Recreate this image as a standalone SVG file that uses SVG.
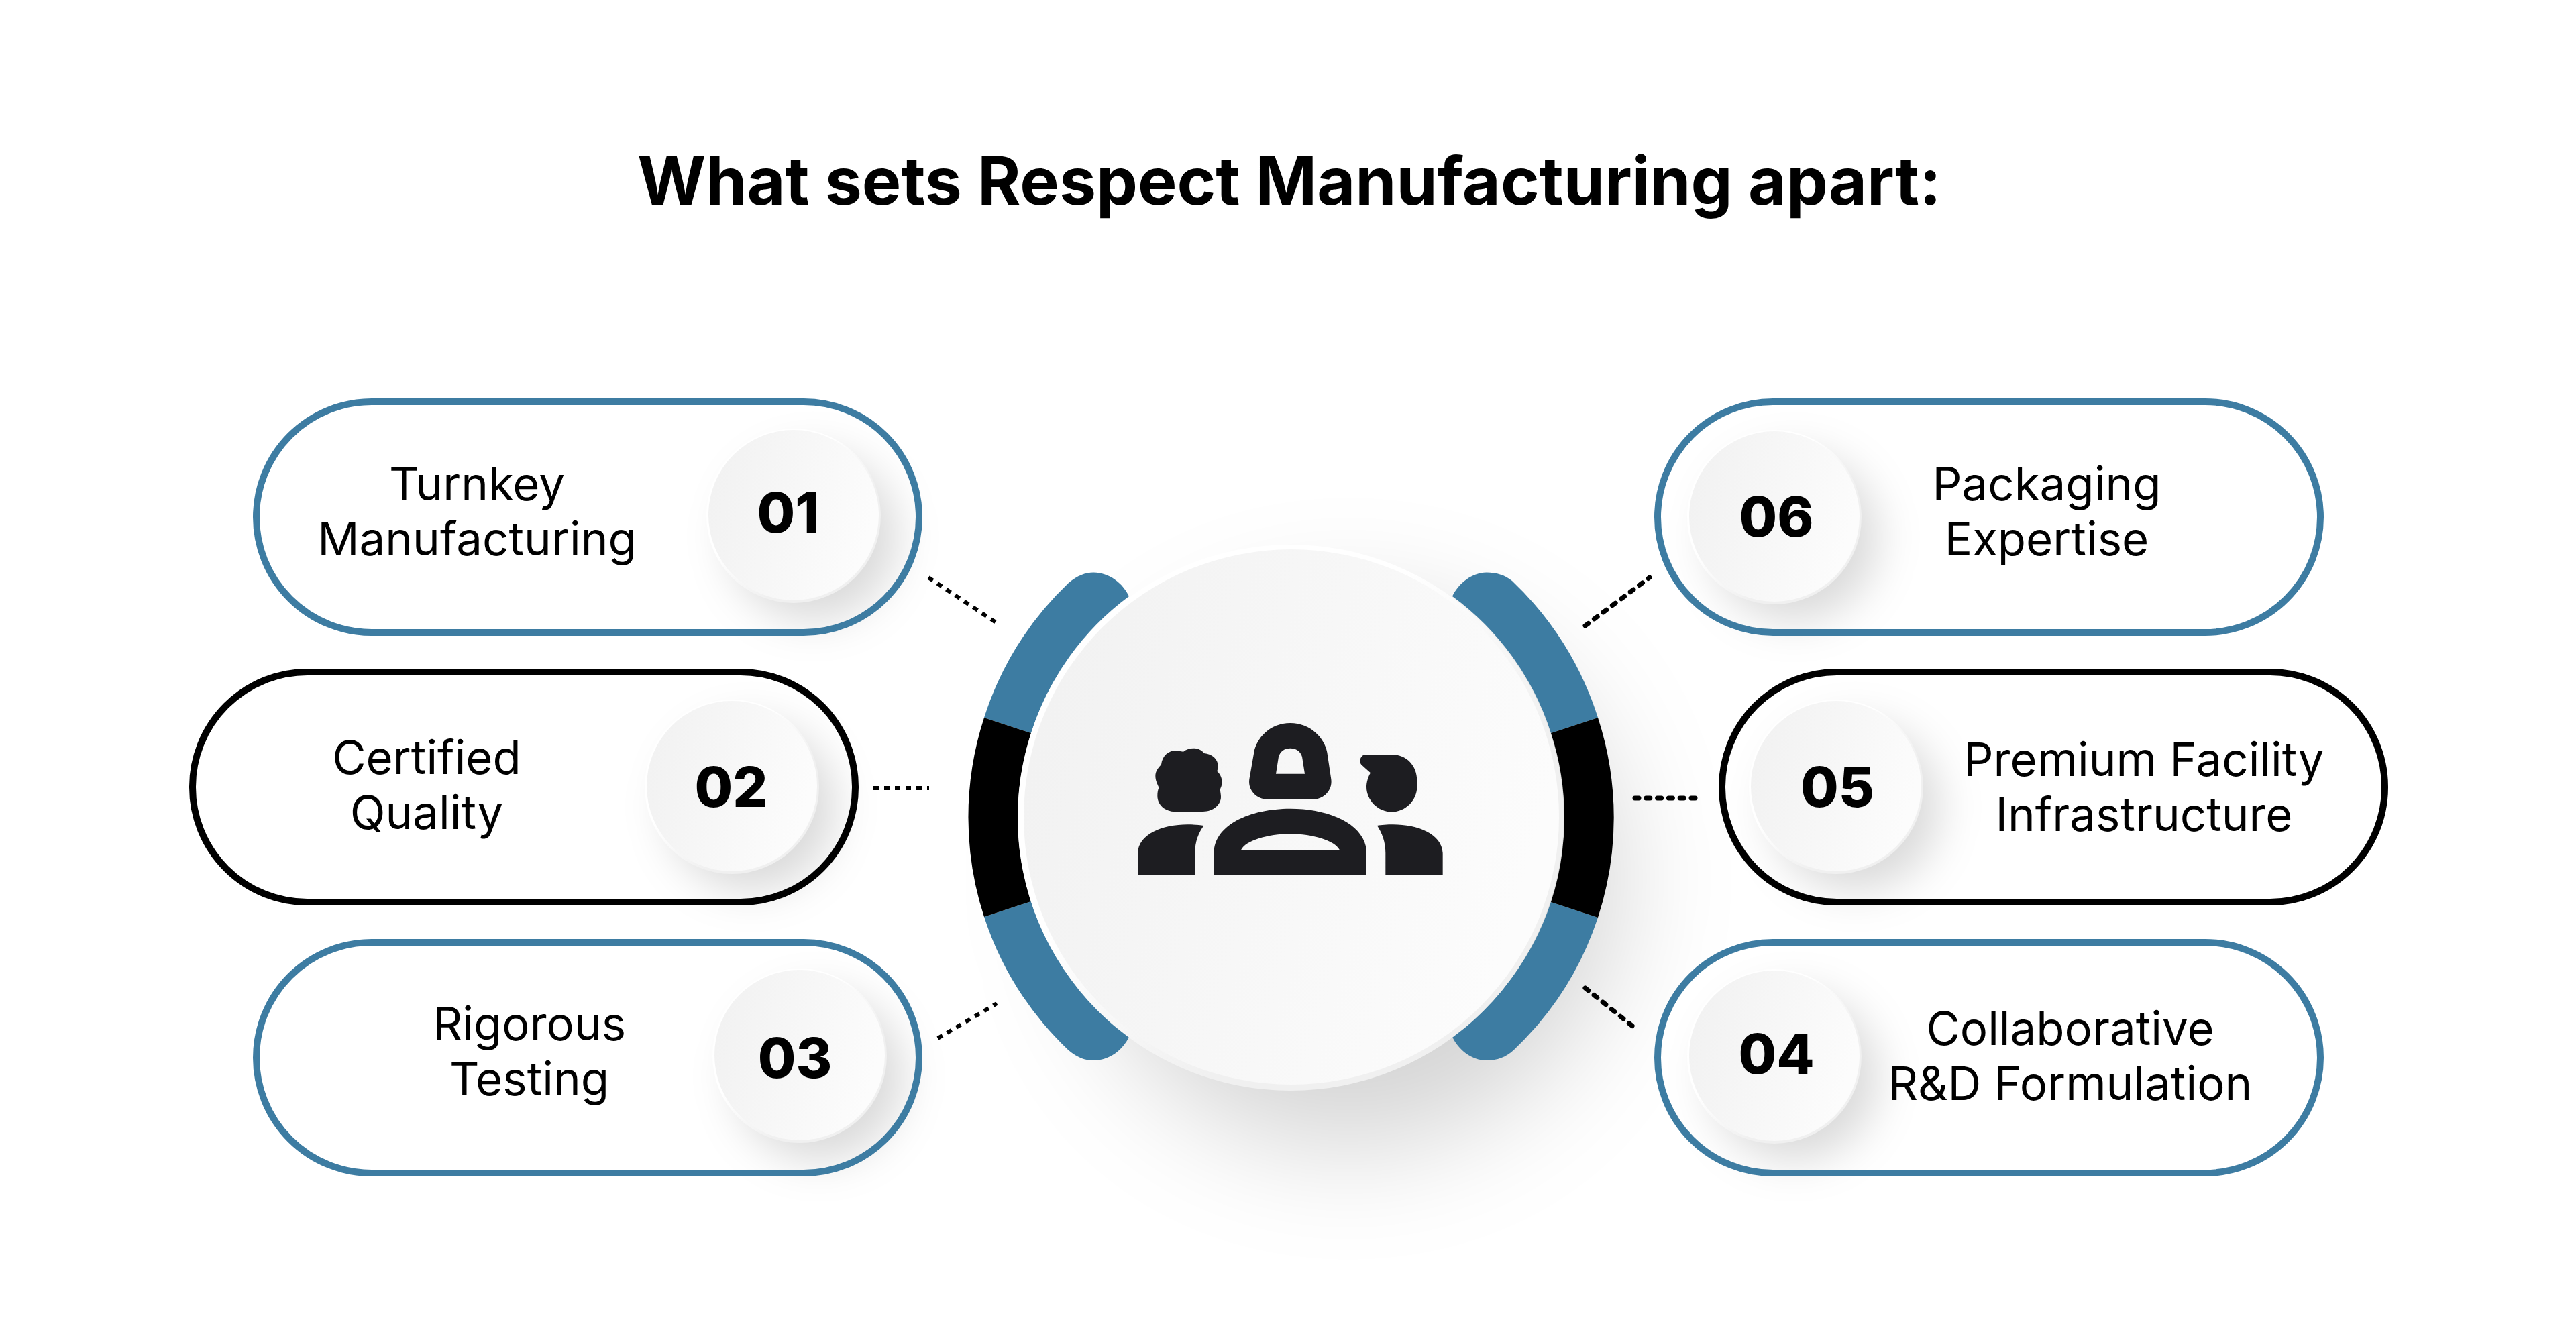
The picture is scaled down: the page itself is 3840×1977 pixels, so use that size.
<svg xmlns="http://www.w3.org/2000/svg" width="3840" height="1977" viewBox="0 0 3840 1977">
<style>
.t{font-family:"Inter","Liberation Sans",sans-serif;fill:#000;text-anchor:middle}
.title{font-size:98.3px;font-weight:700}
.lab{font-size:69px;font-weight:400}
.num{font-size:82px;font-weight:800}
.pb{fill:none;stroke:#3d7ca2;stroke-width:10}
.pk{fill:none;stroke:#000;stroke-width:10}
.pf{fill:#fff}
.badge{fill:url(#bg)}
.brim{fill:url(#rim)}
.sh{fill:#000;fill-opacity:.15;filter:url(#blur)}
.blue{fill:#3d7ca2}
.ic{fill:#1d1d21;fill-rule:evenodd}
.dl{fill:none;stroke:#000;stroke-width:6;stroke-dasharray:8 8}
.dr{fill:none;stroke:#000;stroke-width:7;stroke-linecap:round;stroke-dasharray:6 10.800}
</style>
<defs>
<linearGradient id="bg" x1="0" y1="0.1" x2="1" y2="0.4"><stop offset="0" stop-color="#f1f1f1"/><stop offset="1" stop-color="#fcfcfc"/></linearGradient>
<linearGradient id="rim" x1="0.1" y1="0.1" x2="0.9" y2="0.9"><stop offset="0.35" stop-color="#fff"/><stop offset="0.7" stop-color="#f0f0f0"/></linearGradient>
<filter id="blur" x="-50%" y="-50%" width="200%" height="200%"><feGaussianBlur stdDeviation="32"/></filter>
<filter id="blurL" x="-50%" y="-50%" width="200%" height="200%"><feGaussianBlur stdDeviation="85"/></filter>
</defs>
<rect width="3840" height="1977" fill="#fff"/>
<circle id="hub-shadow" cx="2010" cy="1310" r="400" fill="#000" fill-opacity=".17" filter="url(#blurL)"/>
<text id="title" class="t title" x="1922" y="305">What sets Respect Manufacturing apart:</text>

<g id="connectors">
<path class="dl" d="M1384 861L1486 929"/>
<path class="dl" d="M1302 1175H1385"/>
<path class="dl" d="M1398 1548L1486 1496"/>
<path class="dr" d="M2363 1473L2440 1535"/>
<path class="dr" d="M2437 1190H2535"/>
<path class="dr" d="M2363 933L2459 861"/>
</g>

<g id="node-01">
<rect class="pf" x="382" y="599" width="988" height="344" rx="172"/>
<circle class="sh" cx="1212" cy="800" r="125"/>
<rect class="pb" x="382" y="599" width="988" height="344" rx="172"/>
<circle class="brim" cx="1183" cy="769" r="130"/>
<circle class="badge" cx="1183" cy="768" r="127"/>
<text class="t lab" x="711" y="746">Turnkey</text><text class="t lab" x="711" y="828">Manufacturing</text>
<text class="t num" x="1175" y="794">01</text>
</g>
<g id="node-02">
<rect class="pf" x="287" y="1002" width="988" height="343" rx="171"/>
<circle class="sh" cx="1120" cy="1203" r="125"/>
<rect class="pk" x="287" y="1002" width="988" height="343" rx="171"/>
<circle class="brim" cx="1091" cy="1173" r="130"/>
<circle class="badge" cx="1091" cy="1172" r="127"/>
<text class="t lab" x="636" y="1154">Certified</text><text class="t lab" x="636" y="1236">Quality</text>
<text class="t num" x="1090" y="1203">02</text>
</g>
<g id="node-03">
<rect class="pf" x="382" y="1405" width="988" height="344" rx="172"/>
<circle class="sh" cx="1221" cy="1605" r="125"/>
<rect class="pb" x="382" y="1405" width="988" height="344" rx="172"/>
<circle class="brim" cx="1192" cy="1574" r="130"/>
<circle class="badge" cx="1192" cy="1573" r="127"/>
<text class="t lab" x="789" y="1551">Rigorous</text><text class="t lab" x="789" y="1633">Testing</text>
<text class="t num" x="1185" y="1607">03</text>
</g>
<g id="node-06">
<rect class="pf" x="2471" y="599" width="988" height="344" rx="172"/>
<circle class="sh" cx="2674" cy="801" r="125"/>
<rect class="pb" x="2471" y="599" width="988" height="344" rx="172"/>
<circle class="brim" cx="2645" cy="771" r="130"/>
<circle class="badge" cx="2645" cy="770" r="127"/>
<text class="t lab" x="3051" y="746">Packaging</text><text class="t lab" x="3051" y="828">Expertise</text>
<text class="t num" x="2648" y="800">06</text>
</g>
<g id="node-05">
<rect class="pf" x="2567" y="1002" width="988" height="343" rx="171"/>
<circle class="sh" cx="2766" cy="1203" r="125"/>
<rect class="pk" x="2567" y="1002" width="988" height="343" rx="171"/>
<circle class="brim" cx="2737" cy="1173" r="130"/>
<circle class="badge" cx="2737" cy="1172" r="127"/>
<text class="t lab" x="3196" y="1157">Premium Facility</text><text class="t lab" x="3196" y="1239">Infrastructure</text>
<text class="t num" x="2739" y="1203">05</text>
</g>
<g id="node-04">
<rect class="pf" x="2471" y="1405" width="988" height="344" rx="172"/>
<circle class="sh" cx="2674" cy="1605" r="125"/>
<rect class="pb" x="2471" y="1405" width="988" height="344" rx="172"/>
<circle class="brim" cx="2645" cy="1575" r="130"/>
<circle class="badge" cx="2645" cy="1574" r="127"/>
<text class="t lab" x="3086" y="1558">Collaborative</text><text class="t lab" x="3086" y="1640">R&amp;D Formulation</text>
<text class="t num" x="2648" y="1601">04</text>
</g>

<g id="hub">
<path class="blue" d="M1593 869A480 480 0 0 0 1467 1070L1537 1093A407 407 0 0 1 1683 889C1674 870 1654 853.500 1630 853.500C1618 853.500 1606 858 1593 869Z"/>
<path class="blue" d="M1593 1566A480 480 0 0 1 1467 1367L1537 1344A407 407 0 0 0 1683 1546C1674 1565 1654 1581 1630 1581C1618 1581 1606 1577 1593 1566Z"/>
<path class="blue" d="M2254 866A480 480 0 0 1 2382 1070L2312 1093A407 407 0 0 0 2165 889C2174 870 2194 853.500 2216 853.500C2230 853.500 2243 857 2254 866Z"/>
<path class="blue" d="M2256 1566A480 480 0 0 0 2382 1368L2312 1345A407 407 0 0 1 2165 1546C2174 1565 2194 1581 2216 1581C2232 1581 2245 1576 2256 1566Z"/>
<path d="M1467 1070A480 480 0 0 0 1467 1367L1537 1344A407 407 0 0 1 1537 1093Z" fill="#000"/>
<path d="M2382 1070A480 480 0 0 1 2382 1368L2312 1345A407 407 0 0 0 2312 1093Z" fill="#000"/>
<circle cx="1924" cy="1219" r="407" fill="url(#rim)"/>
<circle cx="1925" cy="1218" r="399" fill="url(#bg)"/>
<g class="ic" transform="translate(1660 1040) scale(.33333)">
<path d="M108 795V700C108 610 220 568 330 568C355 568 385 570 403 573C380 605 364 645 364 695V795Z"/>
<path d="M449 795V695C449 570 610 497 790 497C970 497 1131 570 1131 695V795ZM570 682H1011C990 640 890 610 790 610C690 610 590 640 570 682Z"/>
<path d="M1472 795V700C1472 610 1360 568 1250 568C1225 568 1195 570 1179 573C1200 605 1216 645 1216 695V795Z"/>
<path d="M790 114C700 114 640 180 628 245L607 365C600 415 640 455 690 455H890C940 455 980 415 973 365L955 245C943 180 880 114 790 114ZM726 341L738 265C745 240 765 227 790 227C815 227 837 240 843 265L855 341Z"/>
<path d="M1125 255H1245C1310 255 1357 305 1357 370V400C1357 460 1305 512 1244 512C1183 512 1131 460 1131 400C1131 380 1138 355 1149 337L1108 300C1095 285 1105 258 1125 255Z"/>
<path d="M275 510C230 510 196 480 196 440C196 425 198 412 203 403C195 385 187 370 187 350C187 330 200 313 213 300C218 260 245 237 278 237L312 242C325 232 340 227 357 227C378 227 395 235 405 249C440 252 467 275 467 305C467 315 465 322 463 330C475 340 485 358 485 378C485 392 480 402 476 412C478 425 480 435 480 445C480 480 445 510 400 510Z"/>
</g>
</g>
</svg>
